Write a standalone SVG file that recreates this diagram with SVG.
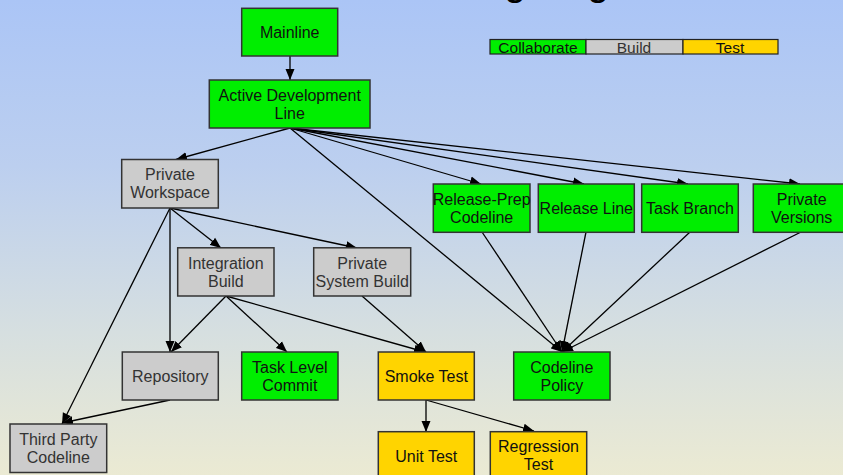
<svg xmlns="http://www.w3.org/2000/svg" width="843" height="475" viewBox="0 0 843 475">
<defs>
<linearGradient id="bg" x1="0" y1="0" x2="0" y2="1">
<stop offset="0" stop-color="#abc5f6"/>
<stop offset="0.35" stop-color="#bccfef"/>
<stop offset="0.7" stop-color="#d6dfe0"/>
<stop offset="1" stop-color="#ebead3"/>
</linearGradient>
<marker id="ah" markerUnits="userSpaceOnUse" markerWidth="12" markerHeight="10" refX="11" refY="5" orient="auto">
<path d="M0,0.5 L11,5 L0,9.5 z" fill="#000"/>
</marker>
<style>
text{font-family:"Liberation Sans",Arial,sans-serif;font-size:16px;text-anchor:middle;fill:#111}
.n rect{stroke:#333;stroke-width:1.5}
.g rect{fill:#00ee00}
.y rect{fill:#ffd400}
.s rect{fill:#cccccc}
.s text{fill:#333}
#edges line{stroke:#000;stroke-width:1.3;marker-end:url(#ah)}
.lg rect{stroke:#222;stroke-width:1.2}
.lg text{font-size:15.5px}
.t{font-size:40px;fill:#000}
</style>
</defs>
<rect width="843" height="475" fill="url(#bg)"/>
<g id="title"><text class="t" x="515" y="-5">g</text><text class="t" x="598" y="-5">g</text></g>
<g id="legend" class="lg">
<rect x="490" y="39.5" width="96" height="14.5" fill="#00ee00"/>
<rect x="586" y="39.5" width="97" height="14.5" fill="#cccccc"/>
<rect x="683" y="39.5" width="95" height="14.5" fill="#ffd400"/>
<text x="538" y="52.5">Collaborate</text>
<text x="634" y="52.5" style="fill:#333">Build</text>
<text x="730" y="52.5">Test</text>
</g>
<g id="edges">
<line x1="290" y1="56" x2="290" y2="80"/>
<line x1="290" y1="128" x2="176" y2="159.5"/>
<line x1="290" y1="128" x2="481" y2="184"/>
<line x1="290" y1="128" x2="584" y2="184"/>
<line x1="290" y1="128" x2="688" y2="184"/>
<line x1="290" y1="128" x2="800" y2="184"/>
<line x1="290" y1="128" x2="562" y2="352"/>
<line x1="170" y1="208" x2="221" y2="248"/>
<line x1="170" y1="208" x2="357" y2="248"/>
<line x1="170" y1="208" x2="170" y2="352"/>
<line x1="170" y1="208" x2="62" y2="424"/>
<line x1="226" y1="296" x2="171" y2="352"/>
<line x1="226" y1="296" x2="287" y2="352"/>
<line x1="226" y1="296" x2="425" y2="352"/>
<line x1="362" y1="296" x2="426" y2="352"/>
<line x1="482" y1="232" x2="562" y2="352"/>
<line x1="586" y1="232" x2="562" y2="352"/>
<line x1="690" y1="232" x2="562" y2="352"/>
<line x1="801" y1="232" x2="562" y2="352"/>
<line x1="170" y1="400" x2="62" y2="423"/>
<line x1="426" y1="400" x2="426" y2="432"/>
<line x1="426" y1="400" x2="534" y2="431"/>
</g>
<g id="mainline" class="n g"><rect x="241.7" y="8.3" width="96" height="47.7"/><text x="289.7" y="37.7">Mainline</text></g>
<g id="active-dev" class="n g"><rect x="209.3" y="80" width="160.7" height="48"/><text x="289.7" y="100.6">Active Development</text><text x="289.7" y="118.6">Line</text></g>
<g id="private-workspace" class="n s"><rect x="121.7" y="159.5" width="96.6" height="48.5"/><text x="170" y="180">Private</text><text x="170" y="198.3">Workspace</text></g>
<g id="integration-build" class="n s"><rect x="177.7" y="247.8" width="96.3" height="48.2"/><text x="225.8" y="268.5">Integration</text><text x="225.8" y="286.8">Build</text></g>
<g id="private-system-build" class="n s"><rect x="313.7" y="247.8" width="97" height="48.2"/><text x="362.2" y="268.5">Private</text><text x="362.2" y="286.8">System Build</text></g>
<g id="release-prep" class="n g"><rect x="433.3" y="184" width="96.7" height="48.3"/><text x="481.7" y="204.8">Release-Prep</text><text x="481.7" y="223.1">Codeline</text></g>
<g id="release-line" class="n g"><rect x="538.3" y="184" width="96" height="48.3"/><text x="586.3" y="213.8">Release Line</text></g>
<g id="task-branch" class="n g"><rect x="641.7" y="184" width="96.6" height="48.3"/><text x="690" y="213.8">Task Branch</text></g>
<g id="private-versions" class="n g"><rect x="753.3" y="184" width="96.7" height="48.3"/><text x="801.7" y="204.8">Private</text><text x="801.7" y="223.1">Versions</text></g>
<g id="repository" class="n s"><rect x="122.3" y="352" width="96" height="48"/><text x="170.3" y="381.6">Repository</text></g>
<g id="task-level-commit" class="n g"><rect x="241.7" y="352" width="96.3" height="48"/><text x="289.8" y="372.7">Task Level</text><text x="289.8" y="391">Commit</text></g>
<g id="smoke-test" class="n y"><rect x="378.3" y="352" width="96" height="48"/><text x="426.3" y="381.6">Smoke Test</text></g>
<g id="codeline-policy" class="n g"><rect x="513.7" y="352" width="96.3" height="48"/><text x="561.8" y="372.7">Codeline</text><text x="561.8" y="391">Policy</text></g>
<g id="third-party" class="n s"><rect x="10" y="424" width="96.7" height="48.5"/><text x="58.3" y="444.7">Third Party</text><text x="58.3" y="463">Codeline</text></g>
<g id="unit-test" class="n y"><rect x="378.3" y="431.7" width="96" height="48"/><text x="426.3" y="461.7">Unit Test</text></g>
<g id="regression-test" class="n y"><rect x="490.3" y="431.7" width="96.4" height="48"/><text x="538.5" y="451.7">Regression</text><text x="538.5" y="470">Test</text></g>
</svg>
